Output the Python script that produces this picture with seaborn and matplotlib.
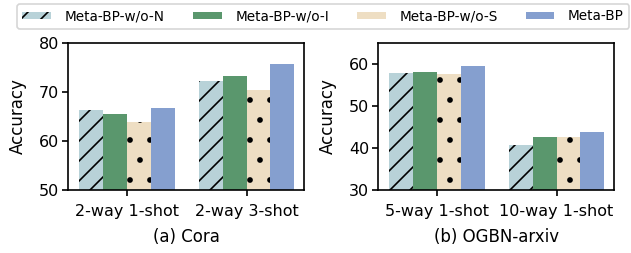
import matplotlib
matplotlib.use('Agg')
import matplotlib.pyplot as plt
import pandas as pd
import seaborn as sns
from matplotlib.patches import Patch

# data
methods = ['Meta-BP-w/o-N', 'Meta-BP-w/o-I', 'Meta-BP-w/o-S', 'Meta-BP']
cora_tasks = ['2-way 1-shot', '2-way 3-shot']
cora_acc = {
    'Meta-BP-w/o-N': [66.3, 72.3],
    'Meta-BP-w/o-I': [65.5, 73.3],
    'Meta-BP-w/o-S': [63.9, 70.3],
    'Meta-BP': [66.6, 75.6],
}
arxiv_tasks = ['5-way 1-shot', '10-way 1-shot']
arxiv_acc = {
    'Meta-BP-w/o-N': [57.8, 40.6],
    'Meta-BP-w/o-I': [58.1, 42.7],
    'Meta-BP-w/o-S': [57.5, 42.7],
    'Meta-BP': [59.4, 43.9],
}

colors = ['#b8d2d8', '#5a976d', '#eedec3', '#859fcf']
hatches = ['//', '', '.', '']

sns.set_style('ticks')
plt.rcParams['font.family'] = ['DejaVu Sans']
plt.rcParams['hatch.linewidth'] = 1.0
for k in ['text.color', 'axes.labelcolor', 'xtick.color', 'ytick.color']:
    plt.rcParams[k] = 'black'

def to_long(tasks, acc):
    rows = []
    for m in methods:
        for t, v in zip(tasks, acc[m]):
            rows.append({'task': t, 'method': m, 'acc': v})
    return pd.DataFrame(rows)

dpi = 120
fs = 9.6
fig = plt.figure(figsize=(631 / dpi, 253 / dpi), dpi=dpi)
ax1 = fig.add_axes([68.3 / 631, 1 - 190 / 253, (304 - 68.3) / 631, (190 - 42.7) / 253])
ax2 = fig.add_axes([378.3 / 631, 1 - 190 / 253, (614 - 378.3) / 631, (190 - 42.7) / 253])

panels = [
    (ax1, cora_tasks, cora_acc, (50, 80), [50, 60, 70, 80], '(a) Cora'),
    (ax2, arxiv_tasks, arxiv_acc, (30, 65), [30, 40, 50, 60], '(b) OGBN-arxiv'),
]

for ax, tasks, acc, ylim, yticks, title in panels:
    df = to_long(tasks, acc)
    sns.barplot(data=df, x='task', y='acc', hue='method', hue_order=methods,
                order=tasks, palette=colors, saturation=1, width=0.8,
                legend=False, ax=ax)
    for cont, h in zip(ax.containers, hatches):
        for p in cont:
            p.set_hatch(h)
            p.set_edgecolor('black')
            p.set_linewidth(0)
    ax.set_ylim(*ylim)
    ax.set_yticks(yticks)
    ax.set_xlim(-0.49, 1.48)
    ax.set_ylabel('Accuracy', fontsize=fs + 0.4, labelpad=7)
    ax.set_xlabel(title, fontsize=fs + 0.4, labelpad=5)
    ax.tick_params(labelsize=fs, length=3.5, width=1)
    ax.tick_params(axis='x', pad=5)
    ax.tick_params(axis='y', pad=2)
    for s in ax.spines.values():
        s.set_visible(True)
        s.set_linewidth(1)
        s.set_color('black')

handles = [Patch(facecolor=c, edgecolor='black', linewidth=0, hatch=h if h == '//' else '')
           for c, h in zip(colors, hatches)]
fig.legend(handles, methods, loc='upper left', bbox_to_anchor=(17 / 631, 1 - 4 / 253),
           ncol=4, prop={'family': 'DejaVu Sans', 'size': 8.2}, frameon=True,
           fancybox=True, edgecolor='#cccccc',
           handlelength=2.1, handleheight=0.45, handletextpad=1.0,
           columnspacing=2.05, borderpad=0.4, borderaxespad=0)

fig.savefig('out.png', dpi=dpi)
